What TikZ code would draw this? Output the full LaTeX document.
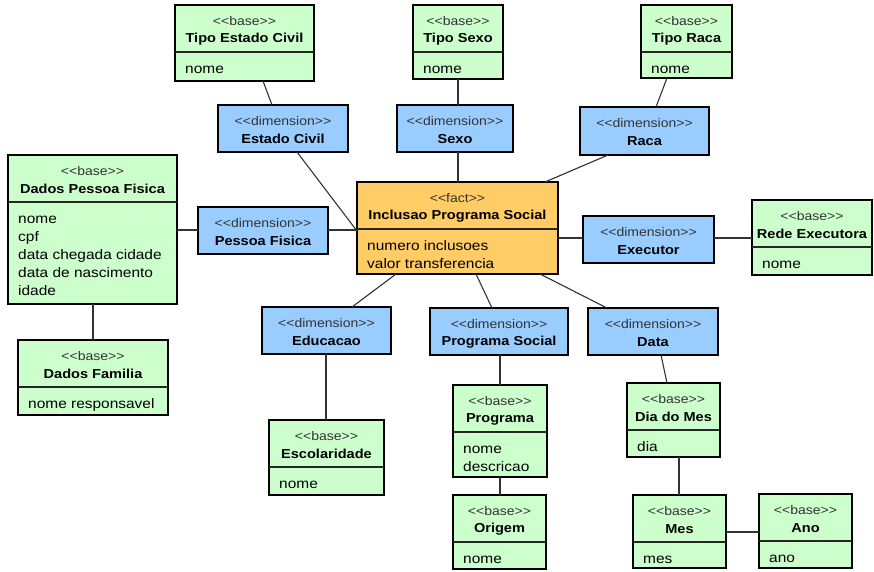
\documentclass[tikz,border=0pt]{standalone}
\usepackage{fontspec}
\setmainfont{Liberation Sans}[FakeStretch=1.12]
\usetikzlibrary{calc}

\definecolor{basefill}{HTML}{CCFFCC}
\definecolor{dimfill}{HTML}{99CCFF}
\definecolor{factfill}{HTML}{FFCC66}
\definecolor{linkgray}{HTML}{333333}

\tikzset{
  boxframe/.style={draw=black, line width=2.6pt, inner sep=0pt, outer sep=0pt, rectangle},
  basebox/.style={boxframe, fill=basefill},
  dimbox/.style={boxframe, fill=dimfill},
  factbox/.style={boxframe, fill=factfill},
  stereo/.style={inner sep=0pt, font=\fontsize{12.5}{14}\selectfont, text=black!80},
  classtitle/.style={inner sep=0pt, font=\bfseries\fontsize{13}{15}\selectfont},
  attr/.style={inner sep=0pt, anchor=base west, font=\fontsize{13.8}{18}\selectfont},
  divider/.style={draw=black!85, line width=1.1pt},
  link/.style={draw=linkgray, line width=1.1pt},
}

% class box: style, name, x1, y1, x2, y2, stereotype, title, attributes
\newcommand{\umlclass}[9]{%
  \node[#1, minimum width={#5-#3}, minimum height={#6-#4}] (#2) at ({(#3+#5)/2},{(#4+#6)/2}) {};
  \node[stereo] (#2-st) at ({(#3+#5)/2},{#4+16}) {<\kern0pt<#7>\kern0pt>};
  \node[classtitle] (#2-ti) at ({(#3+#5)/2},{#4+34}) {#8};
  \ifx\relax#9\relax\else
    \draw[divider] (#3,{#4+47}) -- (#5,{#4+47});
    \node[attr] (#2-at) at ({#3+10},{#4+68}) {\parbox[t]{200pt}{#9}};
  \fi
}
% dimension box: name, x1, y1, x2, y2, title
\newcommand{\umldim}[6]{\umlclass{dimbox}{#1}{#2}{#3}{#4}{#5}{dimension}{#6}{}}

\begin{document}
\begin{tikzpicture}[x=1pt,y=-1pt]
  \fill[white] (0,0) rectangle (874,571);
  \useasboundingbox (0,0) rectangle (874,571);

  % base tables
  \umlclass{basebox}{tec}{175}{5}{314}{81}{base}{Tipo Estado Civil}{nome}
  \umlclass{basebox}{tsx}{413}{5}{503}{79}{base}{Tipo Sexo}{nome}
  \umlclass{basebox}{trc}{641}{5}{732}{78}{base}{Tipo Raca}{nome}
  \umlclass{basebox}{dpf}{8}{155}{177}{304}{base}{Dados Pessoa Fisica}{nome\\cpf\\data chegada cidade\\data de nascimento\\idade}
  \umlclass{basebox}{rex}{752}{200}{872}{275}{base}{Rede Executora}{nome}
  \umlclass{basebox}{dfam}{18}{340}{168}{415}{base}{Dados Familia}{nome responsavel}
  \umlclass{basebox}{esc}{269}{420}{384}{495}{base}{Escolaridade}{nome}
  \umlclass{basebox}{prg}{453}{385}{547}{477}{base}{Programa}{nome\\descricao}
  \umlclass{basebox}{ori}{453}{495}{546}{569}{base}{Origem}{nome}
  \umlclass{basebox}{dia}{627}{383}{720}{457}{base}{Dia do Mes}{dia}
  \umlclass{basebox}{mes}{633}{495}{726}{568}{base}{Mes}{mes}
  \umlclass{basebox}{ano}{759}{494}{852}{568}{base}{Ano}{ano}

  % fact table
  \umlclass{factbox}{fact}{357}{182}{558}{274}{fact}{Inclusao Programa Social}{numero inclusoes\\valor transferencia}

  % dimensions
  \umldim{dec}{218}{105}{348}{152}{Estado Civil}
  \umldim{dsx}{397}{105}{513}{152}{Sexo}
  \umldim{drc}{580}{107}{709}{155}{Raca}
  \umldim{dpfd}{198}{207}{328}{254}{Pessoa Fisica}
  \umldim{dex}{583}{216}{714}{263}{Executor}
  \umldim{ded}{262}{307}{391}{354}{Educacao}
  \umldim{dps}{430}{308}{568}{355}{Programa Social}
  \umldim{ddt}{588}{308}{718}{355}{Data}

  % associations
  \draw[link] (263,0 |- tec.south) -- (272,0 |- dec.north);
  \draw[link] (297,0 |- dec.south) -- (fact.west |- 0,231);
  \draw[link] (458,0 |- tsx.south) -- (458,0 |- dsx.north);
  \draw[link] (458,0 |- dsx.south) -- (458,0 |- fact.north);
  \draw[link] (667,0 |- trc.south) -- (656,0 |- drc.north);
  \draw[link] (608,0 |- drc.south) -- (545,0 |- fact.north);
  \draw[link] (dpf.east |- 0,230) -- (dpfd.west |- 0,230);
  \draw[link] (dpfd.east |- 0,230) -- (fact.west |- 0,230);
  \draw[link] (93,0 |- dpf.south) -- (93,0 |- dfam.north);
  \draw[link] (fact.east |- 0,238) -- (dex.west |- 0,238);
  \draw[link] (dex.east |- 0,238) -- (rex.west |- 0,238);
  \draw[link] (396,0 |- fact.south) -- (352,0 |- ded.north);
  \draw[link] (476,0 |- fact.south) -- (492,0 |- dps.north);
  \draw[link] (540,0 |- fact.south) -- (607,0 |- ddt.north);
  \draw[link] (326,0 |- ded.south) -- (326,0 |- esc.north);
  \draw[link] (500,0 |- dps.south) -- (500,0 |- prg.north);
  \draw[link] (500,0 |- prg.south) -- (500,0 |- ori.north);
  \draw[link] (661,0 |- ddt.south) -- (667,0 |- dia.north);
  \draw[link] (679,0 |- dia.south) -- (679,0 |- mes.north);
  \draw[link] (mes.east |- 0,532) -- (ano.west |- 0,532);
\end{tikzpicture}
\end{document}
